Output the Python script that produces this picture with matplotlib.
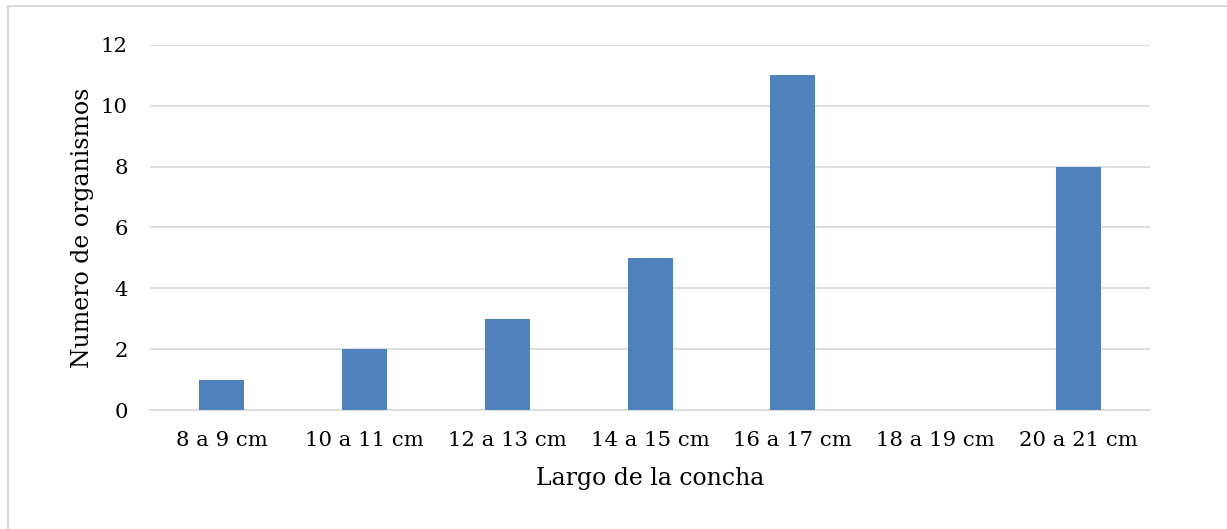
import matplotlib
matplotlib.use("Agg")
import matplotlib.pyplot as plt
from matplotlib.patches import Rectangle

categories = ["8 a 9 cm", "10 a 11 cm", "12 a 13 cm", "14 a 15 cm",
              "16 a 17 cm", "18 a 19 cm", "20 a 21 cm"]
values = [1, 2, 3, 5, 11, 0, 8]
yticks = [0, 2, 4, 6, 8, 10, 12]

W, H = 1227, 529
plt.rcParams['font.family'] = ['DejaVu Serif']
fig = plt.figure(figsize=(W / 100, H / 100), dpi=100)

# chart border (right and bottom edges fall outside the image)
fig.patches.append(Rectangle((8 / W, -0.1), 1.2, 1.1 - 6 / H, transform=fig.transFigure,
                             fill=False, edgecolor='#d9d9d9', linewidth=1.5))

ax = fig.add_axes([150 / W, 1 - 410 / H, 1000 / W, 365 / H])
x = list(range(len(categories)))
ax.bar(x, values, width=0.315, color='#4f81bd', zorder=3)
ax.set_xlim(-0.5, len(categories) - 0.5)
ax.set_ylim(0, 12)
ax.set_yticks(yticks)
ax.set_xticks(x)
ax.set_xticklabels(categories, fontsize=15.3)
ax.tick_params(axis='y', labelsize=15.3, length=0, pad=16)
ax.tick_params(axis='x', length=0, pad=15)
ax.grid(axis='y', color='#d9d9d9', linewidth=1.2, zorder=0)
for s in ['top', 'right', 'left']:
    ax.spines[s].set_visible(False)
ax.spines['bottom'].set_color('#d9d9d9')
ax.spines['bottom'].set_linewidth(1.2)
ax.set_xlabel("Largo de la concha", fontsize=17, labelpad=12)
ax.set_ylabel("Numero de organismos", fontsize=17, labelpad=5)

fig.savefig("out.png", dpi=100)
